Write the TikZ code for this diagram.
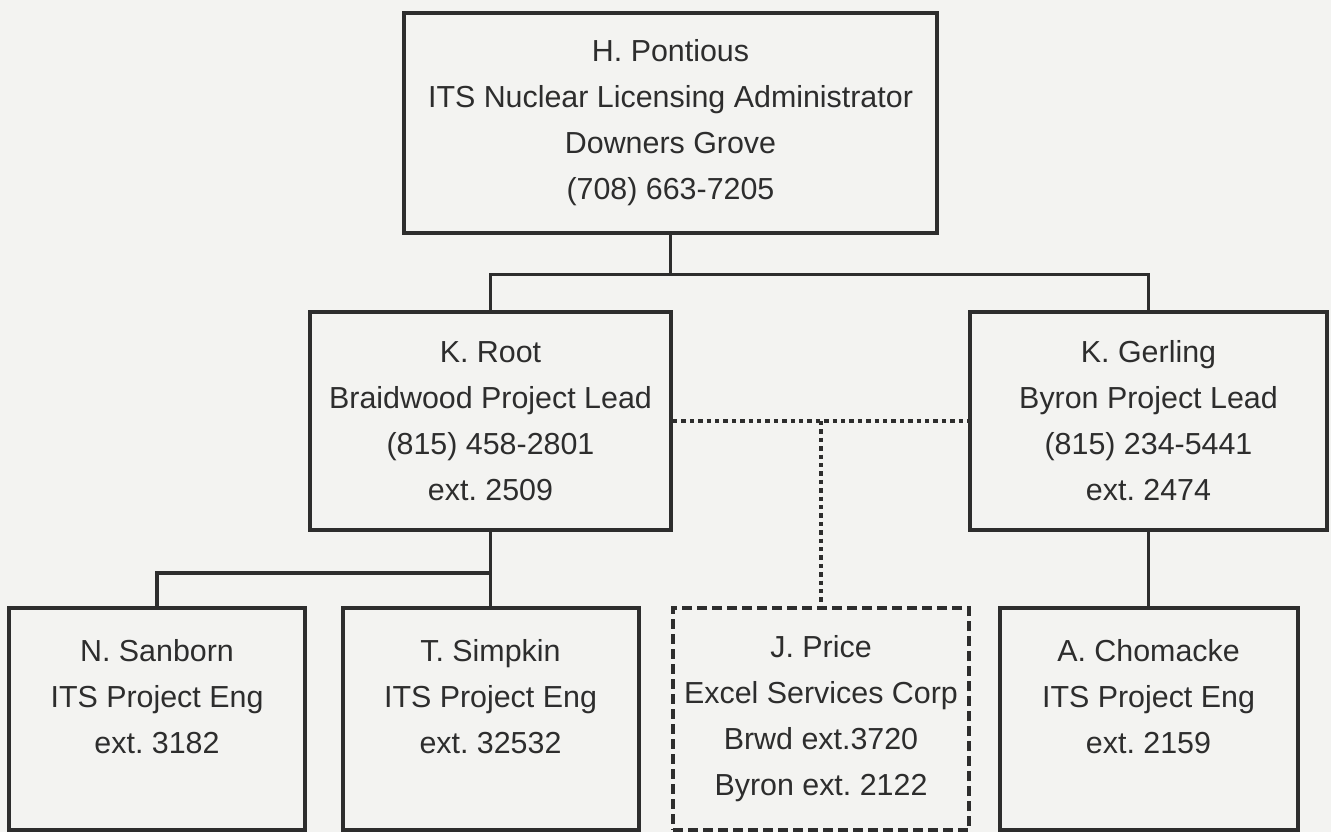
\documentclass[tikz,border=0pt]{standalone}
\usepackage{fontspec}
\setmainfont{Liberation Sans}
\definecolor{bg}{RGB}{243,243,241}
\definecolor{ink}{RGB}{45,45,45}
\begin{document}
\frenchspacing
\begin{tikzpicture}[x=0.5pt,y=-0.5pt,
  box/.style={draw=ink,line width=2pt,fill=bg,inner sep=0pt,align=center,
    text=ink,font=\fontsize{15.2}{23}\selectfont,minimum height=110pt},
  dbox/.style={box,dash pattern=on 5pt off 2.5pt},
  link/.style={draw=ink,line width=1.6pt},
  dotlink/.style={draw=ink,line width=2.2pt,dash pattern=on 2.2pt off 2pt}]
\fill[bg] (0,0) rectangle (1331,832);
\useasboundingbox (0,0) rectangle (1331,832);
\node[box,minimum width=266.5pt] (top) at (670.5,122.5)
  {H. Pontious\\ITS Nuclear Licensing Administrator\\Downers Grove\\(708) 663-7205};
\node[box,minimum width=180.5pt,minimum height=109pt] (root) at (490.5,421)
  {K. Root\\Braidwood Project Lead\\(815) 458-2801\\ext. 2509};
\node[box,minimum width=178.5pt,minimum height=109pt] (gerling) at (1148.5,421)
  {K. Gerling\\Byron Project Lead\\(815) 234-5441\\ext. 2474};
\node[box,minimum width=148pt,minimum height=111pt] (sanborn) at (157,719)
  {N. Sanborn\\ITS Project Eng\\ext. 3182\\\mbox{}};
\node[box,minimum width=148pt,minimum height=111pt] (simpkin) at (490.5,719)
  {T. Simpkin\\ITS Project Eng\\ext. 32532\\\mbox{}};
\node[dbox,minimum width=148pt,minimum height=111pt] (price) at (821,719)
  {J. Price\\Excel Services Corp\\Brwd ext.3720\\Byron ext. 2122};
\node[box,minimum width=149pt,minimum height=111pt] (chomacke) at (1148.5,719)
  {A. Chomacke\\ITS Project Eng\\ext. 2159\\\mbox{}};
\draw[link] (top.south) -- ++(0,40) coordinate (j1);
\draw[link] (root.north) |- (j1) -| (gerling.north);
\draw[link] (root.south) -- ++(0,41) coordinate (j2);
\draw[link] (sanborn.north) |- (j2) -- (simpkin.north);
\draw[link] (gerling.south) -- (chomacke.north);
\draw[dotlink] (root.east) -- (gerling.west);
\coordinate (j3) at (price.north |- root.east);
\draw[dotlink] (j3) -- (price.north);
\end{tikzpicture}
\end{document}
